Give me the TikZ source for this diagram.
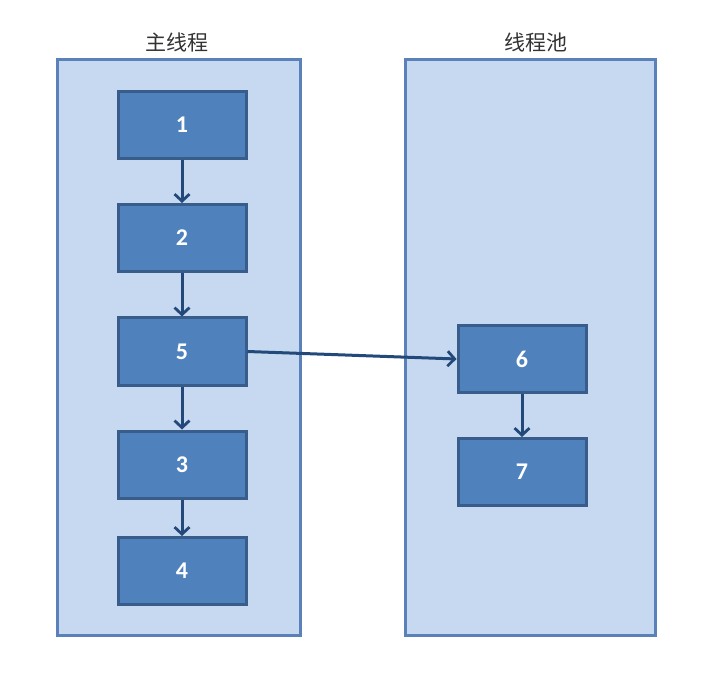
\documentclass[tikz,border=0pt]{standalone}
\usepackage{fontspec}
\setmainfont{Carlito}
\newfontfamily\cjk{Noto Sans CJK SC}
\usetikzlibrary{arrows.meta}
\definecolor{contfill}{HTML}{C6D9F0}
\definecolor{contline}{HTML}{5B82B8}
\definecolor{boxfill}{HTML}{4F81BD}
\definecolor{boxline}{HTML}{385D8A}
\definecolor{arrowc}{HTML}{23497A}
\tikzset{
  container/.style={draw=contline, fill=contfill, line width=3pt, minimum width=243pt, minimum height=575pt, inner sep=0pt},
  stepbox/.style={draw=boxline, fill=boxfill, line width=3pt, minimum width=128pt, minimum height=67pt, inner sep=0pt, text=white, font=\fontsize{24}{28}\selectfont\bfseries},
  title/.style={font=\cjk\fontsize{21}{25}\selectfont, text=black!80},
  flow/.style={draw=arrowc, line width=3pt, -{Straight Barb[length=7pt,width=15pt,line width=2.8pt]}}
}
\begin{document}
\begin{tikzpicture}[x=1pt,y=-1pt]
\useasboundingbox (0,0) rectangle (725,700);
\node[container] (main) at (178.5,347.5) {};
\node[container, minimum width=250pt] (pool) at (530,347.5) {};
\node[title] (t1) at (177,42) {主线程};
\node[title] (t2) at (536,42) {线程池};
\node[stepbox] (b1) at (182,125) {1};
\node[stepbox] (b2) at (182,238) {2};
\node[stepbox] (b5) at (182,351.5) {5};
\node[stepbox] (b3) at (182,464.5) {3};
\node[stepbox] (b4) at (182,571) {4};
\node[stepbox] (b6) at (522,359) {6};
\node[stepbox] (b7) at (522,472) {7};
\draw[flow] (b1) -- (b2);
\draw[flow] (b2) -- (b5);
\draw[flow] (b5) -- (b3);
\draw[flow] (b3) -- (b4);
\draw[flow] (b6) -- (b7);
\draw[flow] (b5.east) -- (b6.west);
\end{tikzpicture}
\end{document}
